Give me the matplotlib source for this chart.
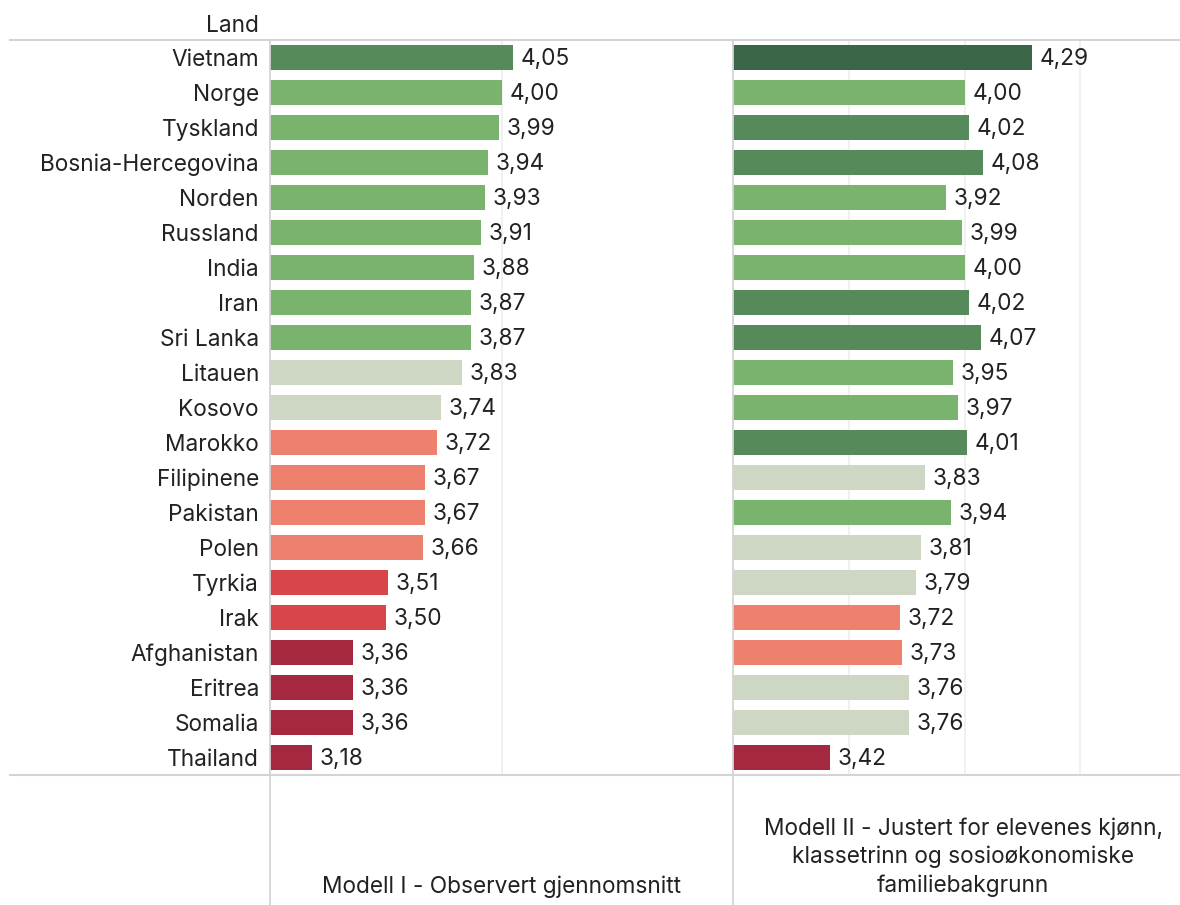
"""two-panel bar chart: average per land, model I and model II"""
import matplotlib
matplotlib.use("Agg")
import matplotlib.pyplot as plt
from matplotlib.lines import Line2D

plt.rcParams['font.family'] = ['Inter', 'DejaVu Sans']

countries = ["Vietnam", "Norge", "Tyskland", "Bosnia-Hercegovina", "Norden", "Russland",
             "India", "Iran", "Sri Lanka", "Litauen", "Kosovo", "Marokko", "Filipinene",
             "Pakistan", "Polen", "Tyrkia", "Irak", "Afghanistan", "Eritrea", "Somalia",
             "Thailand"]
model1 = [4.05, 4.00, 3.99, 3.94, 3.93, 3.91, 3.88, 3.87, 3.87, 3.83, 3.74, 3.72, 3.67,
          3.67, 3.66, 3.51, 3.50, 3.36, 3.36, 3.36, 3.18]
model2 = [4.29, 4.00, 4.02, 4.08, 3.92, 3.99, 4.00, 4.02, 4.07, 3.95, 3.97, 4.01, 3.83,
          3.94, 3.81, 3.79, 3.72, 3.73, 3.76, 3.76, 3.42]
titles = ["Modell I - Observert gjennomsnitt",
          "Modell II - Justert for elevenes kjønn,\nklassetrinn og sosioøkonomiske\nfamiliebakgrunn"]


def bar_color(v):
    if v >= 4.25:
        return "#3c6648"
    if v > 4.0:
        return "#568a5a"
    if v >= 3.85:
        return "#79b36e"
    if v >= 3.74:
        return "#ced6c4"
    if v >= 3.6:
        return "#ee806e"
    if v >= 3.5:
        return "#d8464b"
    return "#a52841"


W, H = 1180, 905
fig = plt.figure(figsize=(W / 100, H / 100), dpi=100)

top_px, bot_px = 40, 775
x0, xmid, x1 = 270, 733, 1180
px_per_unit = 231.5
fs = 16.3
txt_c = "#222222"

ax1 = fig.add_axes([x0 / W, 1 - bot_px / H, (xmid - x0) / W, (bot_px - top_px) / H])
ax2 = fig.add_axes([xmid / W, 1 - bot_px / H, (x1 - xmid) / W, (bot_px - top_px) / H])

grid_c = "#d4d4d4"
ypos = list(range(len(countries)))

for ax, vals, lim, grids in [(ax1, model1, (xmid - x0) / px_per_unit, [4.0]),
                             (ax2, model2, (x1 - xmid) / px_per_unit, [3.5, 4.0, 4.5])]:
    for g in grids:
        ax.axvline(g, color="#efefef", lw=1.3, zorder=0)
    ax.barh(ypos, [v - 3.0 for v in vals], left=3.0, height=0.74,
            color=[bar_color(v) for v in vals], zorder=2)
    for y, v in zip(ypos, vals):
        ax.text(v + 0.033, y + 0.04, f"{v:.2f}".replace(".", ","), va="center", ha="left",
                fontsize=fs, color=txt_c)
    ax.set_xlim(3.0, 3.0 + lim)
    ax.set_ylim(len(countries) - 0.5, -0.5)
    ax.set_xticks([])
    for s in ["top", "right", "bottom"]:
        ax.spines[s].set_visible(False)
    ax.spines["left"].set_color(grid_c)
    ax.spines["left"].set_linewidth(1.3)
    ax.tick_params(axis="y", length=0, pad=8)

ax1.set_yticks(ypos)
ax1.set_yticklabels(countries, fontsize=fs, color=txt_c)
ax2.set_yticks([])

# header and frame lines
fig.text(259 / W, 1 - 26 / H, "Land", ha="right", va="center", fontsize=fs, color=txt_c)
for yy in [top_px, bot_px]:
    fig.add_artist(Line2D([10 / W, 1.0], [1 - yy / H] * 2, color=grid_c, lw=1.5))
for xx in [x0, xmid]:
    fig.add_artist(Line2D([xx / W] * 2, [0, 1 - bot_px / H], color=grid_c, lw=1.3))

fig.text(502 / W, 1 - 887 / H, titles[0], ha="center", va="center", fontsize=fs,
         color=txt_c)
fig.text(963 / W, 1 - 857 / H, titles[1], ha="center", va="center", fontsize=fs,
         color=txt_c, linespacing=1.35)

fig.savefig("out.png", dpi=100)
